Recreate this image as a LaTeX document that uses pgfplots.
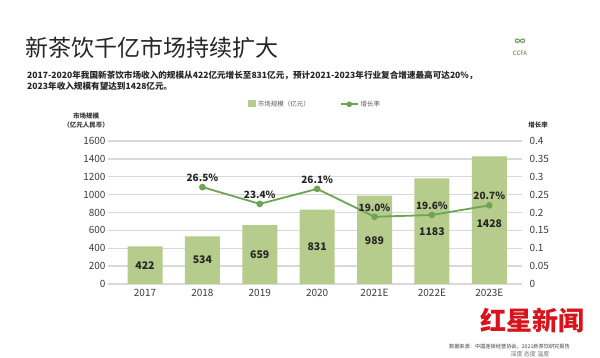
\documentclass[border=0pt]{standalone}
\usepackage{fontspec}
\setmainfont{Noto Sans CJK SC}
\usepackage{pgfplots}
\pgfplotsset{compat=1.18}
\definecolor{barc}{HTML}{B5CC8D}
\definecolor{linec}{HTML}{6FA456}
\definecolor{gridc}{HTML}{D9D9D9}
\definecolor{tickc}{HTML}{3C3C3C}
\definecolor{redc}{HTML}{D7141E}
\begin{document}
\begin{tikzpicture}[x=1pt,y=1pt]
\fill[white] (0pt,0pt) rectangle (600pt,358pt);
\node[anchor=west, inner sep=0, font=\fontsize{23}{26}\selectfont, text=black!85] at (25pt,310pt) {新茶饮千亿市场持续扩大};
\node[anchor=west, inner sep=0, font=\fontsize{8.6}{10}\selectfont\bfseries, text=black!85] at (27pt,283pt) {2017-2020年我国新茶饮市场收入的规模从422亿元增长至831亿元，预计2021-2023年行业复合增速最高可达20\%，};
\node[anchor=west, inner sep=0, font=\fontsize{8.6}{10}\selectfont\bfseries, text=black!85] at (27pt,271.5pt) {2023年收入规模有望达到1428亿元。};
\node[inner sep=0, font=\fontsize{6}{7}\selectfont, text=linec!70!black] at (520pt,305pt) {CCFA};
\node[inner sep=0, font=\fontsize{11}{12}\selectfont\bfseries, text=linec] at (520pt,316pt) {∞};
\node[align=center, inner sep=0, font=\fontsize{6.5}{8.5}\selectfont\bfseries, text=black!80] at (86pt,237.5pt) {市场规模\\（亿元人民币）};
\node[inner sep=0, font=\fontsize{6.5}{8}\selectfont\bfseries, text=black!80] at (538pt,233pt) {增长率};

\begin{axis}[
  at={(108pt,74pt)}, anchor=south west, scale only axis,
  width=414pt, height=143pt,
  xmin=-0.645, xmax=6.57, ymin=0, ymax=1600,
  ytick={0,200,...,1600},
  xtick={0,...,6},
  xticklabels={2017,2018,2019,2020,2021E,2022E,2023E},
  ymajorgrids, grid style={gridc, line width=1.3pt},
  axis line style={draw=none},
  major tick length=0pt,
  /pgf/number format/1000 sep={},
  /pgf/number format/assume math mode=true,
  tick label style={font=\fontsize{10}{12}\selectfont, text=tickc},
  yticklabel style={xshift=1pt},
  xticklabel style={yshift=-2pt},
  legend style={at={(0.5,1)}, anchor=south, yshift=29pt, draw=none, fill=none,
    legend columns=2, font=\fontsize{6.5}{8}\selectfont, text=black!65,
    /tikz/every even column/.append style={column sep=28pt}},
]
\addplot[ybar, bar width=35pt, fill=barc, draw=none,
  legend image code/.code={\fill[barc] (0pt,-3pt) rectangle (8pt,4pt);}]
  coordinates {(0,422)(1,534)(2,659)(3,831)(4,989)(5,1183)(6,1428)};
\addlegendentry{市场规模（亿元）}
\addlegendimage{linec, line width=1.6pt, mark=*, mark size=2pt, mark options={fill=linec}}
\addlegendentry{增长率}
\addplot[draw=none, mark=none, forget plot, nodes near coords, point meta=explicit symbolic,
  every node near coord/.append style={anchor=center, font=\fontsize{10.5}{12}\selectfont\bfseries, text=black!85}]
  coordinates {(0,211)[422](1,267)[534](2,329.5)[659](3,415.5)[831](4,480)[989](5,580)[1183](6,680)[1428]};
\end{axis}

\begin{axis}[
  at={(108pt,74pt)}, anchor=south west, scale only axis,
  width=414pt, height=143pt,
  xmin=-0.645, xmax=6.57, ymin=0, ymax=0.4,
  xtick=\empty,
  yticklabel pos=right,
  axis line style={draw=none},
  major tick length=0pt,
  ytick={0,0.05,0.1,0.15,0.2,0.25,0.3,0.35,0.4},
  yticklabels={0,0.05,0.1,0.15,0.2,0.25,0.3,0.35,0.4},
  yticklabel style={anchor=west, xshift=4pt, font=\fontsize{10}{12}\selectfont, text=tickc},
]
\addplot[linec, line width=1.8pt, mark=*, mark size=2.4pt, mark options={fill=linec},
  nodes near coords, point meta=explicit symbolic,
  every node near coord/.append style={anchor=south, yshift=1pt, font=\fontsize{10}{12}\selectfont\bfseries, text=black!85}]
  coordinates {(1,0.271)[26.5\%](2,0.224)[23.4\%](3,0.266)[26.1\%](4,0.188)[19.0\%](5,0.193)[19.6\%](6,0.220)[20.7\%]};
\end{axis}

\node[inner sep=0, font=\fontsize{26}{30}\selectfont\bfseries, text=redc] at (532pt,37pt) {红星新闻};
\node[anchor=east, inner sep=0, font=\fontsize{5.2}{6}\selectfont, text=black!75] at (570pt,11pt) {数据来源：中国连锁经营协会，2021新茶饮研究报告};
\node[inner sep=0, font=\fontsize{6}{7}\selectfont, text=black!55] at (530pt,3.5pt) {深度\ 态度\ 温度};
\end{tikzpicture}
\end{document}
